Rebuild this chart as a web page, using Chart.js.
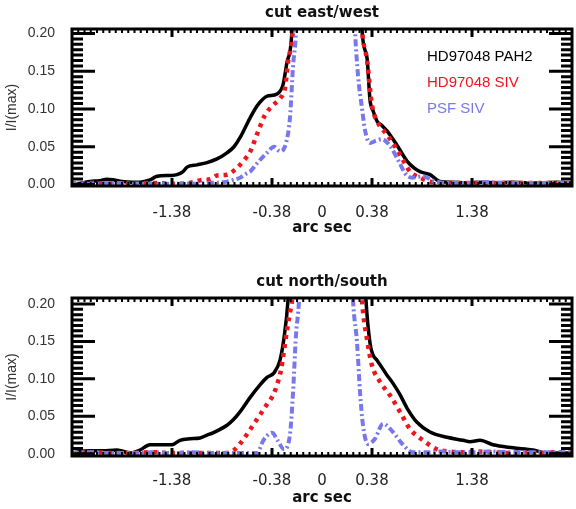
<!DOCTYPE html>
<html><head><meta charset="utf-8">
<script src="https://cdn.jsdelivr.net/npm/chart.js@4/dist/chart.umd.min.js"></script>
<style>
html,body{margin:0;padding:0;background:#fff;width:576px;height:509px;overflow:hidden}
#c1{position:absolute;left:0;top:0}
#c2{position:absolute;left:0;top:254px}
</style></head><body>
<canvas id="c1" width="576" height="254"></canvas>
<canvas id="c2" width="576" height="255"></canvas>
<script>
// ---- data (x in plot units: ticks equally spaced, labelled below) ----
const panelTitles = ['cut east/west', 'cut north/south'];
const seriesNames = ['HD97048 PAH2', 'HD97048 SIV', 'PSF SIV'];
const xTickValues = [-1.5, -0.5, 0, 0.5, 1.5];
const xTickLabels = ['-1.38', '-0.38', '0', '0.38', '1.38'];
const yTickValues = [0, 0.05, 0.10, 0.15, 0.20];

// east/west cut
const ewPahX = [-2.50,-2.40,-2.32,-2.22,-2.15,-2.08,-2.00,-1.90,-1.82,-1.72,-1.65,-1.52,-1.45,-1.39,-1.35,-1.25,-1.15,-1.05,-0.95,-0.88,-0.82,-0.72,-0.65,-0.60,-0.55,-0.45,-0.39,-0.35,-0.30,-0.25,0.05,0.35,0.40,0.45,0.48,0.51,0.55,0.60,0.65,0.75,0.85,0.92,0.98,1.08,1.18,1.30,1.45,1.60,1.75,1.90,2.05,2.20,2.35,2.50];
const ewPahY = [0.000,0.002,0.004,0.005,0.007,0.006,0.004,0.003,0.003,0.006,0.011,0.012,0.013,0.017,0.023,0.026,0.029,0.034,0.042,0.050,0.062,0.088,0.104,0.112,0.117,0.120,0.132,0.162,0.205,0.45,1.0,0.45,0.205,0.168,0.112,0.098,0.084,0.078,0.071,0.052,0.031,0.022,0.017,0.013,0.004,0.003,0.002,0.003,0.002,0.003,0.002,0.002,0.003,0.002];
const ewSivX = [-2.50,-2.30,-2.10,-1.90,-1.70,-1.50,-1.42,-1.29,-1.20,-1.12,-1.05,-0.95,-0.85,-0.78,-0.72,-0.64,-0.57,-0.49,-0.42,-0.37,-0.34,-0.29,-0.20,0.05,0.30,0.40,0.45,0.50,0.55,0.65,0.75,0.82,0.88,0.98,1.11,1.25,1.45,1.65,1.85,2.05,2.25,2.50];
const ewSivY = [0.001,0.002,0.001,0.001,0.002,0.001,0.001,0.003,0.006,0.007,0.012,0.013,0.022,0.032,0.043,0.070,0.092,0.105,0.114,0.128,0.162,0.205,0.45,1.0,0.45,0.205,0.165,0.105,0.084,0.066,0.046,0.030,0.017,0.009,0.003,0.002,0.002,0.002,0.002,0.002,0.002,0.001];
const ewPsfX = [-2.50,-2.30,-2.10,-1.90,-1.70,-1.50,-1.30,-1.15,-0.99,-0.89,-0.82,-0.75,-0.72,-0.65,-0.55,-0.48,-0.42,-0.36,-0.32,-0.29,-0.26,-0.20,0.03,0.25,0.33,0.36,0.40,0.43,0.48,0.54,0.60,0.68,0.77,0.83,0.90,1.01,1.11,1.25,1.45,1.65,1.85,2.05,2.25,2.50];
const ewPsfY = [0.001,0.001,0.002,0.001,0.001,0.001,0.001,0.002,0.003,0.006,0.009,0.015,0.017,0.028,0.042,0.050,0.044,0.055,0.089,0.156,0.205,0.5,1.0,0.5,0.205,0.145,0.101,0.072,0.055,0.058,0.060,0.051,0.030,0.015,0.009,0.011,0.005,0.002,0.002,0.003,0.002,0.002,0.002,0.002];

// north/south cut
const nsPahX = [-2.50,-2.42,-2.32,-2.20,-2.05,-1.92,-1.82,-1.72,-1.60,-1.52,-1.48,-1.42,-1.32,-1.22,-1.15,-1.09,-0.95,-0.89,-0.82,-0.72,-0.62,-0.55,-0.48,-0.42,-0.38,-0.34,-0.25,0.05,0.36,0.44,0.48,0.51,0.55,0.65,0.71,0.78,0.85,0.95,1.08,1.25,1.41,1.48,1.58,1.71,1.91,2.11,2.25,2.40,2.50];
const nsPahY = [0.000,0.003,0.004,0.004,0.005,0.001,0.005,0.012,0.012,0.012,0.013,0.018,0.020,0.021,0.025,0.028,0.038,0.045,0.056,0.075,0.092,0.102,0.108,0.125,0.155,0.205,0.45,1.0,0.45,0.205,0.148,0.132,0.125,0.105,0.094,0.079,0.061,0.042,0.029,0.022,0.018,0.016,0.018,0.012,0.008,0.005,0.001,0.001,0.001];
const nsSivX = [-2.50,-2.30,-2.10,-1.90,-1.70,-1.50,-1.30,-1.10,-0.95,-0.87,-0.81,-0.75,-0.65,-0.59,-0.55,-0.49,-0.45,-0.41,-0.38,-0.35,-0.32,-0.30,-0.20,0.05,0.30,0.40,0.45,0.50,0.58,0.68,0.78,0.88,1.01,1.15,1.28,1.40,1.55,1.70,1.85,2.00,2.20,2.35,2.50];
const nsSivY = [0.001,0.002,0.001,0.001,0.002,0.001,0.001,0.001,0.001,0.006,0.015,0.026,0.046,0.058,0.066,0.078,0.092,0.112,0.138,0.165,0.189,0.205,0.45,1.0,0.45,0.205,0.153,0.118,0.096,0.078,0.056,0.033,0.018,0.006,0.003,0.002,0.003,0.002,0.001,0.002,0.001,0.002,0.001];
const nsPsfX = [-2.50,-2.30,-2.10,-1.90,-1.70,-1.50,-1.30,-1.10,-0.90,-0.75,-0.65,-0.59,-0.55,-0.50,-0.44,-0.38,-0.32,-0.29,-0.26,-0.23,-0.15,0.04,0.22,0.31,0.35,0.38,0.41,0.46,0.53,0.61,0.71,0.81,0.91,1.05,1.20,1.35,1.50,1.70,1.90,2.10,2.30,2.50];
const nsPsfY = [0.001,0.002,0.001,0.001,0.002,0.001,0.002,0.001,0.001,0.001,0.001,0.017,0.024,0.028,0.017,0.006,0.026,0.081,0.159,0.205,0.5,1.0,0.5,0.205,0.149,0.083,0.038,0.013,0.020,0.040,0.029,0.012,0.002,0.002,0.003,0.002,0.002,0.003,0.002,0.002,0.002,0.002];

// ---- styles ----
const styles = [
  {color:'#000000', width:3.5, dash:[]},
  {color:'#f0141c', width:4.5, dash:[4,5]},
  {color:'#7878ec', width:4, dash:[7,3,2,3]}
];
const DJ = '"DejaVu Sans", sans-serif';
const LS = '"Liberation Sans", Arial, sans-serif';

function pts(xs, ys) { return xs.map((x, i) => ({x: x, y: ys[i]})); }

const framePlugin = {
  id: 'idlFrame',
  afterDatasetsDraw(chart) {
    const ctx = chart.ctx, a = chart.chartArea, x = chart.scales.x, y = chart.scales.y;
    ctx.save();
    ctx.strokeStyle = '#000';
    ctx.lineCap = 'butt';
    ctx.lineWidth = 2;
    ctx.beginPath();
    for (let v = -2.5; v <= 2.5001; v += 0.0625) {
      const px = x.getPixelForValue(v);
      ctx.moveTo(px, a.top); ctx.lineTo(px, a.top + 4);
      ctx.moveTo(px, a.bottom); ctx.lineTo(px, a.bottom - 4);
    }
    ctx.stroke();
    ctx.lineWidth = 3;
    ctx.beginPath();
    xTickValues.forEach(v => {
      if (v === 0) return;
      const px = x.getPixelForValue(v);
      ctx.moveTo(px, a.top); ctx.lineTo(px, a.top + 8);
      ctx.moveTo(px, a.bottom); ctx.lineTo(px, a.bottom - 8);
    });
    for (let k = 0; k < yTickValues.length; k++) {
      const v = yTickValues[k], py = y.getPixelForValue(v);
      ctx.moveTo(a.left, py); ctx.lineTo(a.left + 23, py);
      ctx.moveTo(a.right, py); ctx.lineTo(a.right - 23, py);
      if (k < yTickValues.length - 1) {
        const step = (yTickValues[k + 1] - v) / 7;
        for (let m = 1; m < 7; m++) {
          const pm = y.getPixelForValue(v + m * step);
          ctx.moveTo(a.left, pm); ctx.lineTo(a.left + 11, pm);
          ctx.moveTo(a.right, pm); ctx.lineTo(a.right - 11, pm);
        }
      }
    }
    ctx.stroke();
    ctx.strokeRect(a.left, a.top, a.right - a.left, a.bottom - a.top);
    ctx.restore();
  }
};

const textLegend = {
  id: 'textLegend',
  afterDraw(chart, args, opts) {
    if (!opts.show) return;
    const ctx = chart.ctx, a = chart.chartArea;
    ctx.save();
    ctx.font = '15px ' + LS;
    ctx.textBaseline = 'middle';
    ctx.textAlign = 'left';
    chart.data.datasets.forEach((d, i) => {
      ctx.fillStyle = d.borderColor;
      ctx.fillText(d.label, a.right - 145, a.top + 28 + i * 26);
    });
    ctx.restore();
  }
};

function build(id, title, series, lay) {
  const datasets = series.map((s, i) => ({
    label: seriesNames[i],
    data: pts(s[0], s[1]),
    borderColor: styles[i].color,
    borderWidth: styles[i].width,
    borderDash: styles[i].dash,
    borderCapStyle: 'butt',
    pointRadius: 0,
    fill: false,
    cubicInterpolationMode: 'monotone',
    order: 3 - i
  }));
  return new Chart(document.getElementById(id), {
    type: 'line',
    data: {datasets},
    options: {
      responsive: false,
      animation: false,
      events: [],
      layout: {padding: {left: 0, right: 4, top: 0, bottom: 0}},
      plugins: {legend: {display: false}, tooltip: {enabled: false}, textLegend: {show: lay.legend}},
      scales: {
        x: {
          type: 'linear', position: 'bottom', min: -2.5, max: 2.5,
          grid: {display: false}, border: {display: false},
          afterBuildTicks: s => { s.ticks = xTickValues.map(v => ({value: v})); },
          ticks: {callback: (v, i) => xTickLabels[i], font: {family: DJ, size: 15}, color: '#222',
                  padding: lay.xPad, maxRotation: 0, autoSkip: false},
          title: {display: true, text: 'arc sec', font: {family: DJ, size: 15, weight: 'bold'}, color: '#111',
                  padding: {top: 0, bottom: lay.xTitlePad}},
          afterFit: s => { s.height = lay.bottomH; }
        },
        xTop: {
          type: 'linear', position: 'top', min: -2.5, max: 2.5,
          grid: {display: false}, border: {display: false}, ticks: {display: false},
          title: {display: true, text: title, font: {family: DJ, size: 15, weight: 'bold'}, color: '#111',
                  padding: {top: lay.titlePad, bottom: 0}},
          afterFit: s => { s.height = lay.topH; }
        },
        y: {
          type: 'linear', position: 'left', min: lay.ymin, max: lay.ymax,
          grid: {display: false}, border: {display: false},
          afterBuildTicks: s => { s.ticks = yTickValues.map(v => ({value: v})); },
          ticks: {callback: v => Number(v).toFixed(2), font: {family: LS, size: 14}, color: '#333', padding: 9},
          title: {display: true, text: 'I/I(max)', font: {family: LS, size: 14}, color: '#333',
                  padding: {top: 4, bottom: 0}},
          afterFit: s => { s.width = 72; }
        }
      }
    },
    plugins: [framePlugin, textLegend]
  });
}

build('c1', panelTitles[0], [[ewPahX, ewPahY], [ewSivX, ewSivY], [ewPsfX, ewPsfY]],
  {legend: true, topH: 29, bottomH: 68, xPad: 10, xTitlePad: 17, titlePad: 4, ymin: -0.002, ymax: 0.206});
build('c2', panelTitles[1], [[nsPahX, nsPahY], [nsSivX, nsSivY], [nsPsfX, nsPsfY]],
  {legend: false, topH: 44, bottomH: 53, xPad: 8, xTitlePad: 2, titlePad: 19, ymin: -0.003, ymax: 0.208});
</script>
</body></html>
